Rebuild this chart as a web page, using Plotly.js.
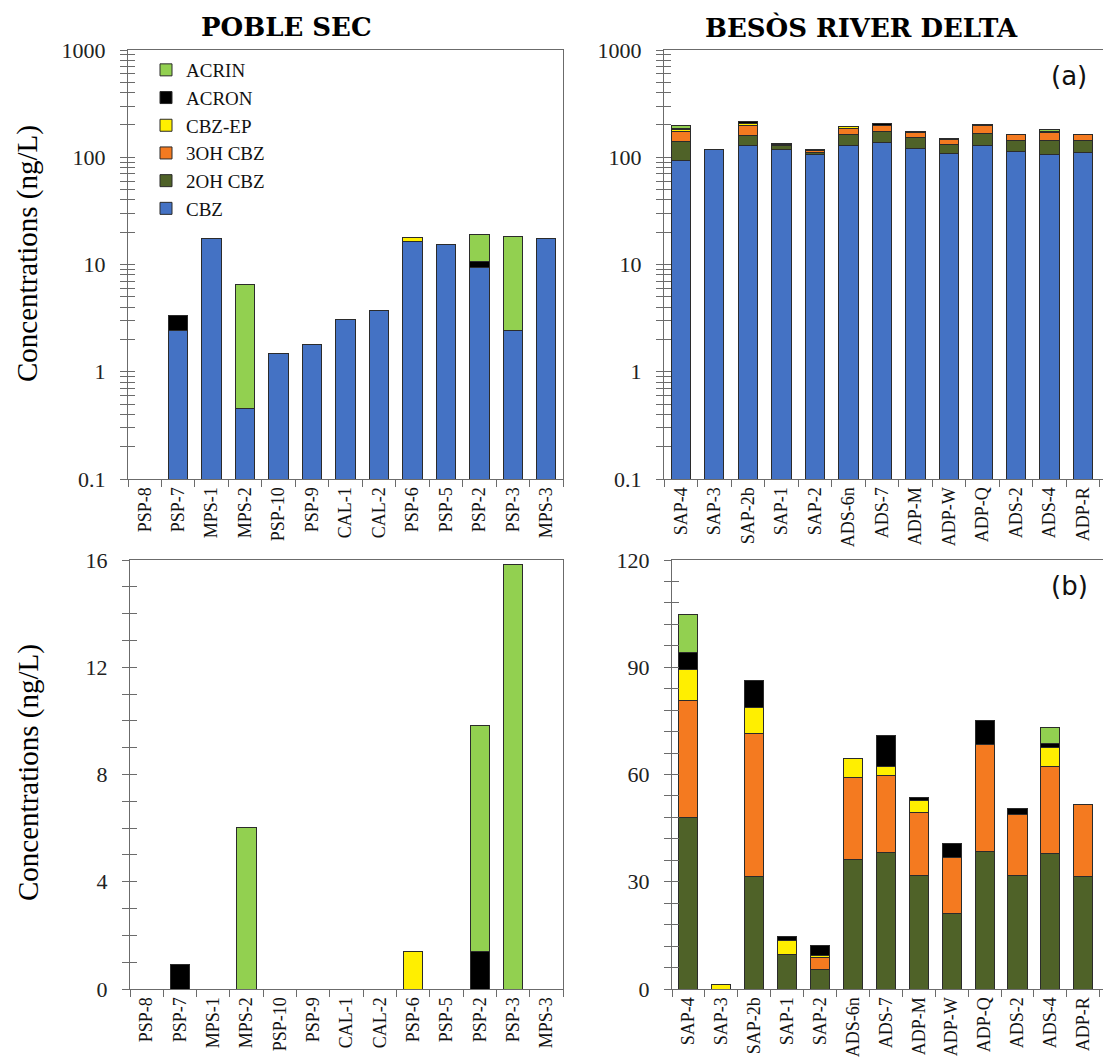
<!DOCTYPE html>
<html>
<head>
<meta charset="utf-8">
<script src="https://cdn.plot.ly/plotly-3.0.1.min.js"></script>
<style>
  html, body { margin: 0; padding: 0; background: #ffffff; }
  #chart { width: 1103px; height: 1059px; }
</style>
</head>
<body>
<div id="chart"></div>
<script>
// Sampling sites
const psSites  = ['PSP-8','PSP-7','MPS-1','MPS-2','PSP-10','PSP-9','CAL-1','CAL-2','PSP-6','PSP-5','PSP-2','PSP-3','MPS-3'];
const brdSites = ['SAP-4','SAP-3','SAP-2b','SAP-1','SAP-2','ADS-6n','ADS-7','ADP-M','ADP-W','ADP-Q','ADS-2','ADS-4','ADP-R'];

// Poble Sec concentrations (ng/L)
const psCBZ   = [null, 2.45, 17.5, 0.45, 1.47, 1.80, 3.08, 3.71, 16.3, 15.3, 9.33, 2.41, 17.5];
const ps2OH   = [null, null, null, null, null, null, null, null, null, null, null, null, null];
const ps3OH   = [null, null, null, null, null, null, null, null, null, null, null, null, null];
const psEP    = [null, null, null, null, null, null, null, null, 1.41, null, null, null, null];
const psACRON = [null, 0.93, null, null, null, null, null, null, null, null, 1.39, null, null];
const psACRIN = [null, null, null, 6.02, null, null, null, null, null, null, 8.43, 15.85, null];

// Besòs River Delta concentrations (ng/L)
const brdCBZ   = [92.3, 116.9, 128.2, 118.6, 106.5, 128.0, 136.7, 120.2, 108.9, 128.0, 112.7, 106.5, 110.4];
const brd2OH   = [48.1, null, 31.6, 9.6, 5.4, 36.2, 38.1, 31.8, 21.2, 38.6, 31.8, 37.8, 31.6];
const brd3OH   = [32.7, null, 39.9, null, 3.3, 23.0, 21.6, 17.5, 15.7, 29.8, 16.9, 24.4, 20.1];
const brdEP    = [8.7, 1.2, 7.3, 3.9, 0.6, 5.3, 2.5, 3.5, null, null, null, 5.3, null];
const brdACRON = [4.6, null, 7.4, 1.1, 2.8, null, 8.6, 0.7, 3.7, 6.6, 1.7, 1.2, null];
const brdACRIN = [10.7, null, null, null, null, null, null, null, null, null, null, 4.5, null];

// Log-axis tick values (decades labelled, 2..9 unlabelled)
const logTickVals = [];
const logTickText = [];
[0.1, 1, 10, 100].forEach(function (d) {
  for (let k = 1; k <= 9; k++) {
    logTickVals.push(+(d * k).toPrecision(3));
    logTickText.push(k === 1 ? String(d) : '');
  }
});
logTickVals.push(1000);
logTickText.push('1000');

const compounds = [
  { name: 'CBZ',     color: '#4472C4' },
  { name: '2OH CBZ', color: '#4F6228' },
  { name: '3OH CBZ', color: '#F47A20' },
  { name: 'CBZ-EP',  color: '#FFEF00' },
  { name: 'ACRON',   color: '#000000' },
  { name: 'ACRIN',   color: '#92D050' }
];

const psSeries  = [psCBZ, ps2OH, ps3OH, psEP, psACRON, psACRIN];
const brdSeries = [brdCBZ, brd2OH, brd3OH, brdEP, brdACRON, brdACRIN];

const traces = [];
function addPanel(sites, series, xa, ya, firstIdx, legend) {
  for (let i = firstIdx; i < compounds.length; i++) {
    traces.push({
      type: 'bar',
      x: sites,
      y: series[i],
      name: compounds[i].name,
      legendgroup: compounds[i].name,
      showlegend: legend,
      xaxis: xa,
      yaxis: ya,
      marker: { color: compounds[i].color, line: { color: '#2b2b2b', width: 1 } },
      hoverinfo: 'x+y+name'
    });
  }
}
addPanel(psSites,  psSeries,  'x',  'y',  0, false);
addPanel(brdSites, brdSeries, 'x2', 'y2', 0, true);
addPanel(psSites,  psSeries,  'x3', 'y3', 1, false);
addPanel(brdSites, brdSeries, 'x4', 'y4', 1, false);

// empty traces registering the inner-tick overlay axes
[['x','y5'],['x2','y6'],['x3','y7'],['x4','y8']].forEach(function (p) {
  traces.push({ type: 'scatter', x: [], y: [], xaxis: p[0], yaxis: p[1], showlegend: false, hoverinfo: 'skip' });
});

const W = 1103, H = 1059;
const px = v => v / W;
const py = v => 1 - v / H;

const serif = 'Liberation Serif';
const lineCol = '#6b6b6b';

function catAxis(domain, anchor, sites, range) {
  return {
    domain: domain, anchor: anchor, type: 'category',
    categoryorder: 'array', categoryarray: sites,
    range: range,
    tickson: 'boundaries', ticks: 'outside', ticklen: 7, tickcolor: lineCol, tickwidth: 1,
    tickangle: -90, tickfont: { family: serif, size: 18, color: '#111' },
    showline: true, linecolor: lineCol, linewidth: 1, mirror: true,
    showgrid: false, zeroline: false, fixedrange: true
  };
}
function logAxis(domain, anchor) {
  return {
    domain: domain, anchor: anchor, type: 'log', range: [-1, 3],
    tickmode: 'array', tickvals: logTickVals, ticktext: logTickText,
    ticks: 'outside', ticklen: 7, tickcolor: lineCol, tickwidth: 1,
    ticklabelstandoff: 10,
    tickfont: { family: serif, size: 22, color: '#222' },
    showline: true, linecolor: lineCol, linewidth: 1, mirror: true,
    showgrid: false, zeroline: false, fixedrange: true
  };
}
function linAxis(domain, anchor, max, major, minor) {
  const vals = [], text = [];
  for (let v = 0; v <= max + 1e-9; v += minor) {
    vals.push(v);
    text.push(Math.abs(v / major - Math.round(v / major)) < 1e-9 ? String(v) : '');
  }
  return {
    domain: domain, anchor: anchor, range: [0, max],
    tickmode: 'array', tickvals: vals, ticktext: text,
    ticks: 'outside', ticklen: 7, tickcolor: lineCol, tickwidth: 1,
    ticklabelstandoff: 10,
    tickfont: { family: serif, size: 22, color: '#222' },
    showline: true, linecolor: lineCol, linewidth: 1, mirror: true,
    showgrid: false, zeroline: false, fixedrange: true
  };
}
function innerTicks(base, over, anchor) {
  return {
    overlaying: over, anchor: anchor, type: base.type || 'linear', range: base.range,
    tickmode: 'array', tickvals: base.tickvals, ticks: 'inside', ticklen: 7,
    tickcolor: lineCol, tickwidth: 1, showticklabels: false,
    showline: false, showgrid: false, zeroline: false, fixedrange: true
  };
}

const topY = [py(479), py(50)];
const botY = [py(989), py(560)];

const yTL = logAxis(topY, 'x');
const yTR = logAxis(topY, 'x2');
const yBL = linAxis(botY, 'x3', 16, 4, 1);
const yBR = linAxis(botY, 'x4', 120, 30, 6);

const layout = {
  width: W, height: H,
  margin: { l: 0, r: 0, t: 0, b: 0 },
  paper_bgcolor: '#ffffff', plot_bgcolor: '#ffffff',
  barmode: 'stack', bargap: 0.42,
  font: { family: serif, color: '#111' },
  showlegend: true,
  legend: {
    x: px(146), y: py(51), xanchor: 'left', yanchor: 'top',
    traceorder: 'reversed', bgcolor: 'rgba(255,255,255,0)',
    font: { family: serif, size: 19, color: '#111' }
  },
  xaxis:  catAxis([px(128), px(563)], 'y',  psSites,  [-0.5, 12.5]),
  xaxis2: catAxis([px(664), 1],       'y2', brdSites, [-0.5, 12.6]),
  xaxis3: catAxis([px(130), px(563)], 'y3', psSites,  [-0.5, 12.5]),
  xaxis4: catAxis([px(672), 1],       'y4', brdSites, [-0.5, 12.6]),
  yaxis: yTL, yaxis2: yTR, yaxis3: yBL, yaxis4: yBR,
  yaxis5: innerTicks(yTL, 'y', 'x'),
  yaxis6: innerTicks(yTR, 'y2', 'x2'),
  yaxis7: innerTicks(yBL, 'y3', 'x3'),
  yaxis8: innerTicks(yBR, 'y4', 'x4'),
  annotations: [
    { text: 'POBLE SEC', xref: 'paper', yref: 'paper', x: px(286), y: py(27),
      xanchor: 'center', yanchor: 'middle', showarrow: false,
      font: { family: 'DejaVu Serif', size: 26, weight: 'bold', color: '#000' } },
    { text: 'BESÒS RIVER DELTA', xref: 'paper', yref: 'paper', x: px(861), y: py(27),
      xanchor: 'center', yanchor: 'middle', showarrow: false,
      font: { family: 'DejaVu Serif', size: 26, weight: 'bold', color: '#000' } },
    { text: '(a)', xref: 'paper', yref: 'paper', x: px(1069), y: py(76),
      xanchor: 'center', yanchor: 'middle', showarrow: false,
      font: { family: 'DejaVu Sans', size: 26, color: '#111' } },
    { text: '(b)', xref: 'paper', yref: 'paper', x: px(1069), y: py(586),
      xanchor: 'center', yanchor: 'middle', showarrow: false,
      font: { family: 'DejaVu Sans', size: 26, color: '#111' } },
    { text: 'Concentrations (ng/L)', xref: 'paper', yref: 'paper', x: px(28), y: py(254),
      xanchor: 'center', yanchor: 'middle', textangle: -90, showarrow: false,
      font: { family: serif, size: 29, color: '#000' } },
    { text: 'Concentrations (ng/L)', xref: 'paper', yref: 'paper', x: px(28), y: py(773),
      xanchor: 'center', yanchor: 'middle', textangle: -90, showarrow: false,
      font: { family: serif, size: 29, color: '#000' } }
  ]
};

Plotly.newPlot('chart', traces, layout, { staticPlot: true, displayModeBar: false });
</script>
</body>
</html>
